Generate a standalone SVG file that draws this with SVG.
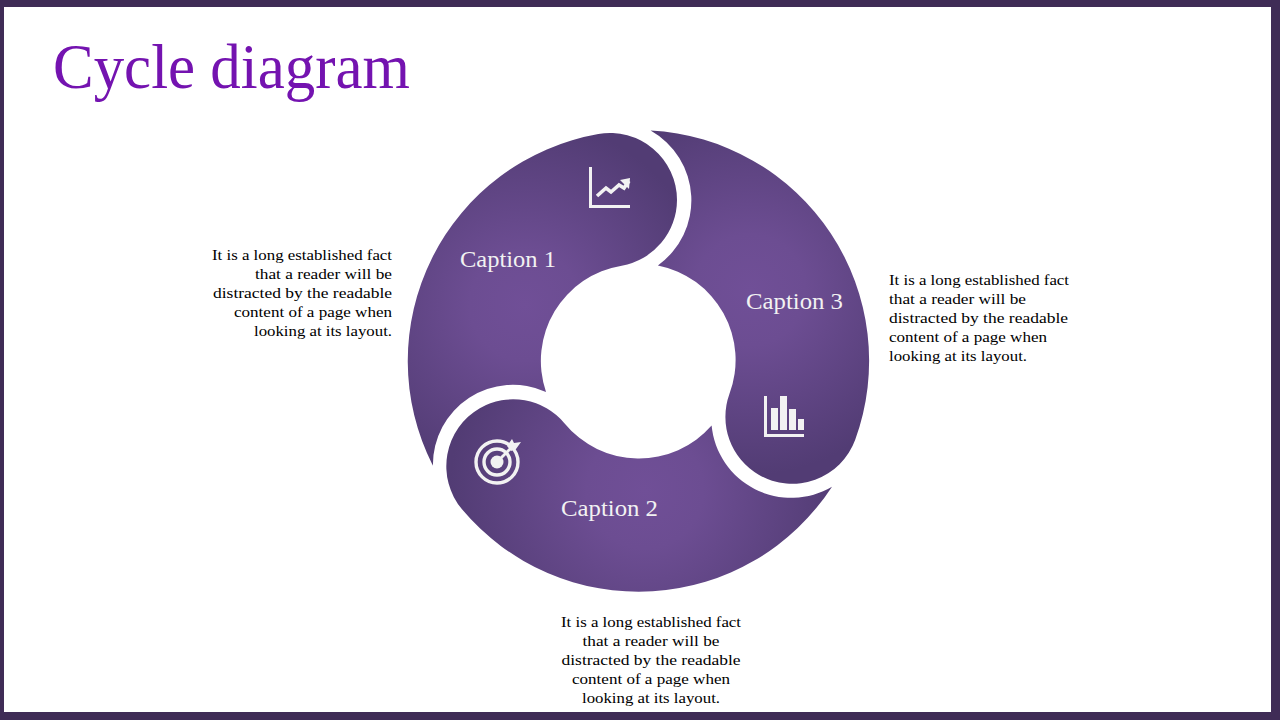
<svg xmlns="http://www.w3.org/2000/svg" width="1280" height="720" viewBox="0 0 1280 720">
<style>
.cap{font-family:"Liberation Serif",serif;font-size:23.5px;fill:#f2f2f2}
.body{font-family:"Liberation Serif",serif;font-size:15.5px;fill:#000}
.ic{fill:#f2f2f2}
.il{fill:none;stroke:#f2f2f2}
</style>
<defs>
<radialGradient id="ramp">
<stop offset="0" stop-color="#704f97"/>
<stop offset="0.3" stop-color="#6c4d92"/>
<stop offset="1" stop-color="#523c74"/>
</radialGradient>
<radialGradient id="g1" href="#ramp" gradientUnits="userSpaceOnUse" cx="525" cy="305" r="185"/>
<radialGradient id="g2" href="#ramp" gradientUnits="userSpaceOnUse" cx="645" cy="490" r="195"/>
<radialGradient id="g3" href="#ramp" gradientUnits="userSpaceOnUse" cx="750" cy="290" r="185"/>
</defs>
<rect width="1280" height="720" fill="#3f2c56"/>
<rect x="4" y="7" width="1267" height="705" fill="#fff"/>
<text id="title" x="53" y="88" font-family="Liberation Serif,serif" font-size="63" fill="#7413b0" textLength="357" lengthAdjust="spacingAndGlyphs">Cycle diagram</text>
<g id="node-1">
<path fill="url(#g1)" d="M432.9 465.7A230.5 230.5 0 0 1 598.3 134A67 67 0 0 1 677 200A67 67 0 0 1 621.7 265.7A96.5 96.5 0 0 0 546 392A80 80 0 0 0 432.9 465.7Z"/>
<text class="cap" x="460" y="267" textLength="96" lengthAdjust="spacingAndGlyphs">Caption 1</text>
<path class="ic" d="M589 167h3v38h38v3h-41z"/>
<path class="il" stroke-width="3.6" d="M597 196l9-8 5 4 8-7 5 3 5-7"/>
<path class="ic" d="M620 180l10-2-1 11z"/>
<text class="body" text-anchor="end" x="392" y="260" textLength="180" lengthAdjust="spacingAndGlyphs">It is a long established fact</text>
<text class="body" text-anchor="end" x="392" y="279" textLength="137" lengthAdjust="spacingAndGlyphs">that a reader will be</text>
<text class="body" text-anchor="end" x="392" y="298" textLength="179" lengthAdjust="spacingAndGlyphs">distracted by the readable</text>
<text class="body" text-anchor="end" x="392" y="317" textLength="158" lengthAdjust="spacingAndGlyphs">content of a page when</text>
<text class="body" text-anchor="end" x="392" y="336" textLength="138" lengthAdjust="spacingAndGlyphs">looking at its layout.</text>
</g>
<g id="node-2">
<path fill="url(#g2)" d="M832 486.7A230.5 230.5 0 0 1 462 509.3A67 67 0 0 1 479.8 408.2A67 67 0 0 1 564.4 423.2A96.5 96.5 0 0 0 711.6 425.6A80 80 0 0 0 832 486.7Z"/>
<text class="cap" x="561" y="516" textLength="97" lengthAdjust="spacingAndGlyphs">Caption 2</text>
<circle class="il" cx="497" cy="462" r="21" stroke-width="3.4"/>
<circle class="il" cx="497" cy="462" r="13" stroke-width="3.4"/>
<circle class="ic" cx="497" cy="462" r="6.5"/>
<path class="il" stroke-width="3" d="M497 462l16-16"/>
<path class="ic" d="M507 446l5-7 2 4 7-1-5 7-5 2z"/>
<text class="body" text-anchor="middle" x="651" y="627" textLength="180" lengthAdjust="spacingAndGlyphs">It is a long established fact</text>
<text class="body" text-anchor="middle" x="651" y="646" textLength="137" lengthAdjust="spacingAndGlyphs">that a reader will be</text>
<text class="body" text-anchor="middle" x="651" y="665" textLength="179" lengthAdjust="spacingAndGlyphs">distracted by the readable</text>
<text class="body" text-anchor="middle" x="651" y="684" textLength="158" lengthAdjust="spacingAndGlyphs">content of a page when</text>
<text class="body" text-anchor="middle" x="651" y="703" textLength="138" lengthAdjust="spacingAndGlyphs">looking at its layout.</text>
</g>
<g id="node-3">
<path fill="url(#g3)" d="M650.6 130.6A230.5 230.5 0 0 1 855.2 439.7A67 67 0 0 1 758.7 474.8A67 67 0 0 1 729.4 394.1A96.5 96.5 0 0 0 657.9 265.4A80 80 0 0 0 650.6 130.6Z"/>
<text class="cap" x="746" y="309" textLength="97" lengthAdjust="spacingAndGlyphs">Caption 3</text>
<path class="ic" d="M764 396h3v38h37v3h-40z"/>
<rect class="ic" x="771" y="408" width="7" height="22"/>
<rect class="ic" x="780" y="396" width="7" height="34"/>
<rect class="ic" x="789" y="409" width="7" height="21"/>
<rect class="ic" x="798" y="419" width="6" height="11"/>
<text class="body" x="889" y="285" textLength="180" lengthAdjust="spacingAndGlyphs">It is a long established fact</text>
<text class="body" x="889" y="304" textLength="137" lengthAdjust="spacingAndGlyphs">that a reader will be</text>
<text class="body" x="889" y="323" textLength="179" lengthAdjust="spacingAndGlyphs">distracted by the readable</text>
<text class="body" x="889" y="342" textLength="158" lengthAdjust="spacingAndGlyphs">content of a page when</text>
<text class="body" x="889" y="361" textLength="138" lengthAdjust="spacingAndGlyphs">looking at its layout.</text>
</g>
<g id="connectors"/>
</svg>
